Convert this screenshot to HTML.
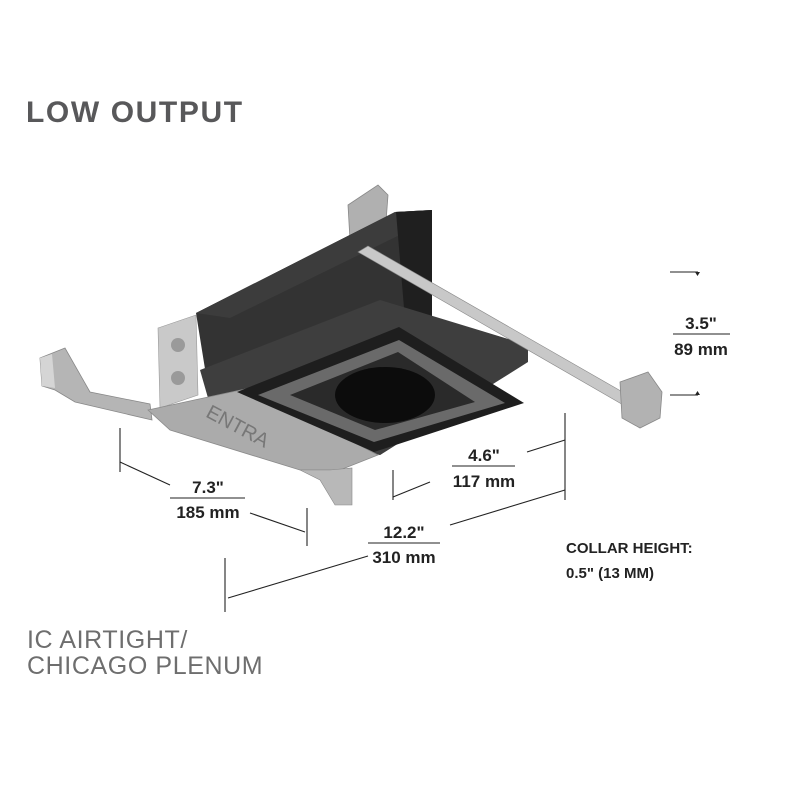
<!DOCTYPE html>
<html><head><meta charset="utf-8"><style>
html,body{margin:0;padding:0;background:#fff;width:800px;height:800px;overflow:hidden}
svg{display:block}
</style></head><body>
<svg width="800" height="800" viewBox="0 0 800 800" xmlns="http://www.w3.org/2000/svg" font-family="Liberation Sans, sans-serif">
<text x="26" y="122" font-size="30" font-weight="bold" fill="#58585a" letter-spacing="1.6">LOW OUTPUT</text>

<!-- left bracket arm -->
<polygon points="40,358 65,348 90,392 150,404 152,420 75,402 55,390 42,386" fill="#b5b5b5" stroke="#888" stroke-width="0.8"/>
<polygon points="40,358 52,354 55,388 42,386" fill="#d5d5d5"/>
<!-- right top bracket -->
<polygon points="348,205 378,185 388,195 385,235 360,250 350,240" fill="#b0b0b0" stroke="#888" stroke-width="0.8"/>
<!-- dark box -->
<polygon points="196,313 395,212 432,210 432,330 528,350 528,360 380,455 210,400" fill="#333"/>
<polygon points="196,313 395,212 432,210 420,225 230,318" fill="#3c3c3c"/>
<polygon points="396,212 432,210 432,330 405,320" fill="#1f1f1f"/>
<!-- side plate light -->
<polygon points="158,328 196,315 198,395 160,408" fill="#c9c9c9" stroke="#999" stroke-width="0.6"/>
<circle cx="178" cy="345" r="7" fill="#9a9a9a"/><circle cx="178" cy="378" r="7" fill="#9a9a9a"/>
<!-- front side band -->
<polygon points="200,370 380,300 528,345 528,362 380,455 210,405" fill="#3e3e3e"/>
<!-- bottom plate -->
<polygon points="148,410 250,388 378,455 340,470 300,470 170,430" fill="#ababab" stroke="#8a8a8a" stroke-width="0.8"/>
<text x="200" y="425" font-size="20" fill="#777" transform="rotate(28 220 430)">ENTRA</text>
<!-- lower front bracket -->
<polygon points="300,470 330,470 352,468 352,505 335,505 320,480" fill="#b8b8b8" stroke="#888" stroke-width="0.6"/>
<!-- collar frame -->
<polygon points="237,392 399,327 524,403 374,452" fill="#1e1e1e"/>
<polygon points="258,395 399,340 505,403 374,442" fill="#6a6a6a"/>
<polygon points="290,395 398,352 475,402 375,430" fill="#2a2a2a"/>
<ellipse cx="385" cy="395" rx="50" ry="28" fill="#0c0c0c"/>
<!-- rail -->
<polygon points="358,252 368,246 640,402 632,410" fill="#c8c8c8" stroke="#888" stroke-width="0.6"/>
<!-- right bracket -->
<polygon points="620,382 648,372 662,392 660,418 640,428 622,418" fill="#b2b2b2" stroke="#888" stroke-width="0.8"/>
<!-- dimension lines -->
<g stroke="#222" stroke-width="1.1" fill="none">
<line x1="670" y1="272" x2="698" y2="272"/><line x1="670" y1="395" x2="698" y2="395"/>
<line x1="673" y1="334" x2="730" y2="334"/>
<line x1="120" y1="428" x2="120" y2="472"/><line x1="120" y1="462" x2="170" y2="485"/>
<line x1="170" y1="498" x2="245" y2="498"/>
<line x1="250" y1="513" x2="305" y2="532"/><line x1="307" y1="508" x2="307" y2="546"/>
<line x1="393" y1="470" x2="393" y2="500"/><line x1="393" y1="497" x2="430" y2="482"/>
<line x1="452" y1="466" x2="515" y2="466"/>
<line x1="527" y1="452" x2="565" y2="440"/><line x1="565" y1="413" x2="565" y2="500"/>
<line x1="450" y1="525" x2="565" y2="490"/>
<line x1="368" y1="543" x2="440" y2="543"/>
<line x1="228" y1="598" x2="368" y2="556"/><line x1="225" y1="558" x2="225" y2="612"/>
</g>
<polygon points="695,272 700,272 697.5,276" fill="#222"/>
<polygon points="695,395 700,395 697.5,391" fill="#222"/>
<g font-size="17" font-weight="bold" fill="#222" text-anchor="middle">
<text x="701" y="329">3.5"</text><text x="701" y="355">89 mm</text>
<text x="208" y="493">7.3"</text><text x="208" y="518">185 mm</text>
<text x="484" y="461">4.6"</text><text x="484" y="487">117 mm</text>
<text x="404" y="538">12.2"</text><text x="404" y="563">310 mm</text>
</g>
<g font-size="15" font-weight="bold" fill="#222">
<text x="566" y="553">COLLAR HEIGHT:</text><text x="566" y="578">0.5" (13 MM)</text>
</g>
<g font-size="25" fill="#6e6e6e" letter-spacing="0.6">
<text x="27" y="648">IC AIRTIGHT/</text><text x="27" y="674">CHICAGO PLENUM</text>
</g>
</svg>
</body></html>
